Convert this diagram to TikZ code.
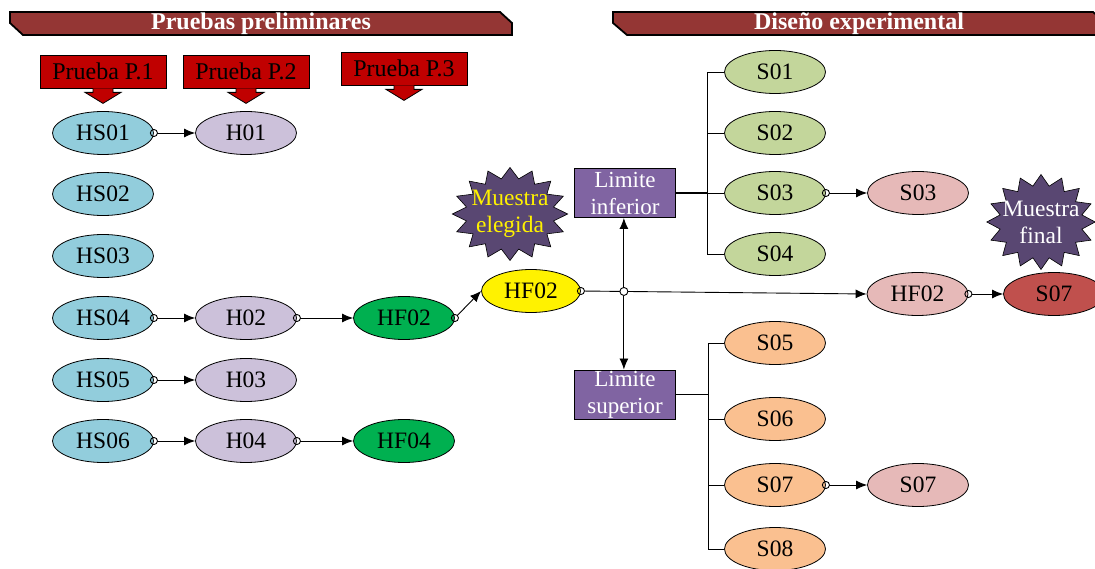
\documentclass[tikz,border=0pt]{standalone}
\usepackage{fontspec}
\setmainfont{Liberation Serif}
\usetikzlibrary{arrows.meta,calc,shapes.geometric}

\definecolor{hsblue}{HTML}{92CDDC}
\definecolor{hlav}{HTML}{CCC1DA}
\definecolor{hfgreen}{HTML}{00B050}
\definecolor{sgreen}{HTML}{C3D69B}
\definecolor{sorange}{HTML}{FAC090}
\definecolor{spink}{HTML}{E6B9B8}
\definecolor{sred}{HTML}{C0504D}
\definecolor{prred}{HTML}{C00000}
\definecolor{bannerred}{HTML}{943634}
\definecolor{limpurple}{HTML}{8064A2}
\definecolor{sealpurple}{HTML}{594772}

\tikzset{
  txt/.style={font=\fontsize{23.5}{26}\selectfont},
  ell/.style={ellipse, draw, line width=0.8pt, minimum width=101pt,
    minimum height=43pt, inner sep=0pt, txt},
  pbox/.style={draw, line width=0.8pt, fill=prred, minimum width=126pt,
    minimum height=33pt, inner sep=0pt, font=\fontsize{24}{26}\selectfont},
  pdrop/.style={fill=prred, draw, line width=0.8pt, line join=miter},
  limbox/.style={draw, line width=1pt, fill=limpurple, text=white,
    minimum width=101pt, minimum height=49pt, inner sep=0pt, align=center,
    font=\fontsize{23}{27}\selectfont},
  banner/.style={fill=bannerred, draw=black, line width=1.8pt, line join=miter},
  bannertext/.style={text=white, anchor=base, inner sep=0pt,
    font=\fontsize{24}{26}\selectfont\bfseries},
  seal/.style={star, star points=16, star point ratio=1.3, draw,
    line width=0.6pt, fill=sealpurple, inner sep=0pt},
  sealtext/.style={align=center, font=\fontsize{23.5}{27}\selectfont},
  conn/.style={draw, line width=0.9pt,
    {Circle[open,length=8pt,width=8pt]}-{Latex[length=11pt,width=9pt]},
    shorten <=-4pt},
  arr/.style={draw, line width=0.9pt, -{Latex[length=11pt,width=9pt]}},
  tree/.style={draw, line width=0.9pt},
  stem/.style={draw, line width=1.6pt},
}

\begin{document}
\begin{tikzpicture}[x=1pt, y=-1pt]
\useasboundingbox (0,0) rectangle (1095,569);
\clip (0,0) rectangle (1095,569);

% section banners
\filldraw[banner] (10,12) -- (500,12) -- (512,23) -- (512,35) -- (23,35) -- (10,23) -- cycle;
\node[bannertext] (t1) at (261,29.5) {Pruebas preliminares};
\filldraw[banner] (613,12) -- (1093,12) -- (1106,23) -- (1106,35) -- (627,35) -- (613,23) -- cycle;
\node[bannertext] (t2) at (859,29.5) {Diseño experimental};

% test labels with drop arrows
\node[pbox] (p1) at (103,71.5) {Prueba P.1};
\node[pbox] (p2) at (246,71.5) {Prueba P.2};
\node[pbox] (p3) at (404,68.5) {Prueba P.3};
\foreach \n in {p1,p2,p3}{
  \filldraw[pdrop] ($(\n.south)+(-10,0)$) -- ++(0,4) -- ++(-8,0)
    -- ($(\n.south)+(0,15)$) -- ($(\n.south)+(18,4)$) -- ++(-8,0)
    -- ($(\n.south)+(10,0)$);
}

% first column
\node[ell, fill=hsblue] (hs01) at (103,133) {HS01};
\node[ell, fill=hsblue] (hs02) at (103,194) {HS02};
\node[ell, fill=hsblue] (hs03) at (103,256) {HS03};
\node[ell, fill=hsblue] (hs04) at (103,318) {HS04};
\node[ell, fill=hsblue] (hs05) at (103,380) {HS05};
\node[ell, fill=hsblue] (hs06) at (103,441) {HS06};

% second column
\node[ell, fill=hlav] (h01) at (246,133) {H01};
\node[ell, fill=hlav] (h02) at (246,318) {H02};
\node[ell, fill=hlav] (h03) at (246,380) {H03};
\node[ell, fill=hlav] (h04) at (246,441) {H04};

% third column
\node[ell, fill=hfgreen] (hf02g) at (404,318) {HF02};
\node[ell, fill=hfgreen] (hf04) at (404,441) {HF04};

% chosen sample
\node[ell, fill=yellow, minimum width=99pt] (hf02y) at (531,291) {HF02};
\node[seal, minimum size=93pt, xscale=1.24] (sealA) at (510,214) {};
\node[sealtext, text=yellow] (sealAt) at (510,214) {Muestra\\elegida};

% limit boxes
\node[limbox] (liminf) at (625,193) {Limite\\inferior};
\node[limbox] (limsup) at (625,394.5) {Limite\\superior};

% lower limit branch
\node[ell, fill=sgreen] (s01) at (775,72) {S01};
\node[ell, fill=sgreen] (s02) at (775,133) {S02};
\node[ell, fill=sgreen] (s03) at (775,193) {S03};
\node[ell, fill=sgreen] (s04) at (775,254) {S04};
\node[ell, fill=spink] (s03p) at (918,193) {S03};

% upper limit branch
\node[ell, fill=sorange] (s05) at (775,343) {S05};
\node[ell, fill=sorange] (s06) at (775,419) {S06};
\node[ell, fill=sorange] (s07) at (775,485) {S07};
\node[ell, fill=sorange] (s08) at (775,549) {S08};
\node[ell, fill=spink] (s07p) at (918,485) {S07};

% final sample
\node[ell, fill=spink] (hf02p) at (917.5,294) {HF02};
\node[ell, fill=sred] (s07f) at (1054,294) {S07};
\node[seal, minimum size=95pt, xscale=1.14] (sealB) at (1041,222) {};
\node[sealtext, text=white] (sealBt) at (1041,222) {Muestra\\final};

% connectors
\draw[conn] (hs01) -- (h01);
\draw[conn] (hs04) -- (h02);
\draw[conn] (h02) -- (hf02g);
\draw[conn] (hs05) -- (h03);
\draw[conn] (hs06) -- (h04);
\draw[conn] (h04) -- (hf04);
\draw[conn] (hf02g.east) -- (hf02y.west);
\draw[conn] (hf02y.east) -- (hf02p.west);
\draw[conn] (s03.east) -- (s03p.west);
\draw[conn] (s07.east) -- (s07p.west);
\draw[conn] (hf02p.east) -- (s07f.west);

% junction feeding both limits
\node[circle, draw, line width=0.9pt, fill=white, inner sep=0pt, minimum size=8pt]
  (jn) at ($(hf02y.east)!0.1505!(hf02p.west)$) {};
\draw[arr] (jn.north) -- (jn |- liminf.south);
\draw[arr] (jn.south) -- (jn |- limsup.north);

% lower limit tree
\coordinate (bi) at (707,193);
\draw[stem] (liminf.east) -- (bi);
\draw[tree] (s01.west) -- (s01.west -| bi) -- (s04.west -| bi) -- (s04.west);
\draw[tree] (s02.west) -- (s02.west -| bi);
\draw[tree] (s03.west) -- (s03.west -| bi);

% upper limit tree
\coordinate (bs) at (708,394.5);
\draw[stem] (limsup.east) -- (bs);
\draw[tree] (s05.west) -- (s05.west -| bs) -- (s08.west -| bs) -- (s08.west);
\draw[tree] (s06.west) -- (s06.west -| bs);
\draw[tree] (s07.west) -- (s07.west -| bs);
\end{tikzpicture}
\end{document}
